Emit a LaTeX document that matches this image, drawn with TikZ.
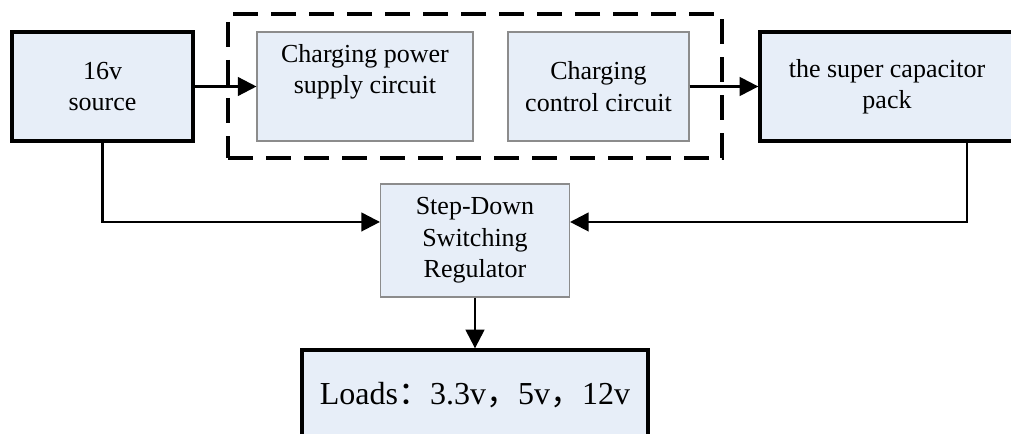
\documentclass[tikz,border=0pt]{standalone}
\usepackage{fontspec}
\setmainfont{Liberation Serif}
\newfontfamily\cjk{Noto Sans CJK SC}
\usetikzlibrary{arrows.meta, positioning}
\definecolor{boxfill}{RGB}{231,238,248}

\begin{document}
\begin{tikzpicture}[
        x=0.75pt,
        y=0.75pt,
        font=\fontsize{19.5}{23.5}\selectfont,
        mainbox/.style={draw=black, line width=2.5pt, fill=boxfill, align=center, inner sep=0pt},
        subbox/.style={draw=gray!90, line width=0.8pt, fill=boxfill, align=center, inner sep=0pt},
        group/.style={draw=black, line width=2.4pt, dash pattern=on 18.75pt off 9.75pt, inner sep=0pt},
        link/.style={-{Triangle[length=14pt, width=14pt]}, line width=1.8pt}
    ]
        \clip (0,0) rectangle (1011,433);

        % dashed charging group
        \node[group, minimum width=370.5pt, minimum height=108pt] (grp) at (475,347) {};

        \node[mainbox, minimum width=135.75pt, minimum height=81.75pt] (src) at (102.5,346.5) {16v\\source};
        \node[subbox, minimum width=162pt, minimum height=81.75pt] (pwr) at (365,346.5) {};
        \node[align=center] (pwrtext) at ([yshift=10.9pt]pwr.center) {Charging power\\supply circuit};
        \node[subbox, minimum width=135.75pt, minimum height=81.75pt] (ctl) at (598.5,346.5) {Charging\\control circuit};
        \node[mainbox, minimum width=190.5pt, minimum height=81.75pt] (cap) at (887,346.5) {the super capacitor\\pack};
        \node[subbox, minimum width=141.75pt, minimum height=84.75pt] (reg) at (475,192.5) {Step-Down\\Switching\\Regulator};
        \node[mainbox, minimum width=259.5pt, minimum height=67.5pt, font=\fontsize{24}{28}\selectfont] (load) at (475,38)
            {Loads{\cjk ：}3.3v{\cjk ，}5v{\cjk ，}12v};

        \draw[link] (src.east) -- (pwr.west);
        \draw[link] (ctl.east) -- (cap.west);
        \draw[link] (src.south) |- ([yshift=13.9pt]reg.west);
        \draw[link] ([xshift=60pt]cap.south) |- ([yshift=13.9pt]reg.east);
        \draw[link] (reg.south) -- (load.north);
    \end{tikzpicture}
\end{document}
